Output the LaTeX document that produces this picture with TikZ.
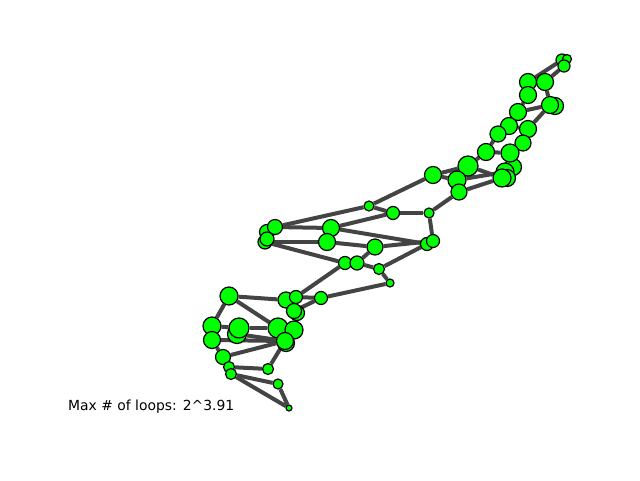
\documentclass[tikz,border=0pt]{standalone}
\usepackage{fontspec}
\setmainfont{DejaVu Sans}
\usetikzlibrary{backgrounds}
\definecolor{nodegreen}{RGB}{0,255,0}
\definecolor{edgegray}{RGB}{68,68,68}
\tikzset{
  nd/.style={circle, draw=black, line width=1.2pt, fill=nodegreen, inner sep=0pt},
  edge/.style={draw=edgegray, line width=4pt},
  lbl/.style={font=\fontsize{13.9}{16}\selectfont, inner sep=0pt, anchor=west}
}
\begin{document}
\begin{tikzpicture}[x=1pt,y=-1pt]
\useasboundingbox (0,0) rectangle (640,480);
\foreach \n/\x/\y/\r in {
  t1/562/60/6, t2/567/59/4.5, t3/564/66/6,
  b1/528/82/8.5, b2/545/82/8.5, b3/528/95/8.5, b4b/555/106/8.5, b4/550/105/8.5,
  b5/518/112/8.5, b6/509/126/8.5, b7/528/129/8.5, b8/498/134/8,
  c1/523/143/8, c2/486/152/8.5, c4b/513/167/8.5, c3/510/153/9,
  d/468/166/10, e/505/172/9, e2b/507/178/8.5, e2/502/178/9,
  f0/433/175/8.5, f/457/180/9, g/459/192/8, h/429/213/5,
  m1/369/206/5, m2/393/213/6.5, m4/267/232/7.5, m3/275/227/7.5,
  m5/331/228/8.5, m6/265/242/7, m6a/267/239/7, m7/327/242/8.5, m8/375/247/8,
  m9/427/244/6.5, m10/433/241/6.5, m11/345/263/6.5, m12/357/263/7,
  m13/379/269/5.5, m14/390/283/4,
  n1/229/296/9, n2/286/300/8, n3/296/297/6.5, n4/321/298/6.5,
  n5b/297/313/7.5, n5/294/311/7.5, n6/212/326/9, n7b/237/334/9.5, n7/239/328/10,
  n8/278/328/10, n9/294/330/9, n10/212/340/8.5, n11b/286/343/8.5, n11/285/341/8.5,
  n12/223/357/7.5, n13/229/367/5.5, n14/231/374/5.5, n15/268/369/5.5,
  n16/278/384/5, n17/289/408/3}
  \node[nd, minimum size=2*\r pt] (\n) at (\x,\y) {};
\begin{pgfonlayer}{background}
\fill[white] (0,0) rectangle (640,480);
\foreach \a/\b in {
  t1/b1, t3/b2, b1/b3, b2/b4, b3/b5, b5/b4, b5/b6, b4/b7, b6/b7, b6/b8,
  b7/c1, b8/c2, c2/c3, c1/c3, c2/d, c3/e, d/e2, f/e, g/e2, f0/d, f0/f, g/f,
  g/h, f0/m1, c3/c4b,
  m1/m3, m1/m2, m2/h, h/m10, m2/m5, m3/m5, m5/m9, m6/m7, m7/m8, m8/m10,
  m6/m11, m12/m8, m12/m13, m13/m9, m13/m14, m14/n4, m11/n3, m3/m4, m4/m6a,
  m11/m12, m5/m7, m9/m10,
  n1/n2, n1/n6, n1/n8, n3/n4, n2/n5, n4/n5, n6/n7, n7/n8, n10/n11, n6/n10,
  n10/n12, n12/n11, n12/n13, n13/n14, n13/n15, n15/n11, n14/n16, n14/n17,
  n16/n17, n9/n5, n7b/n11, n2/n3, n8/n9}
  \draw[edge] (\a) -- (\b);
\end{pgfonlayer}
\node[lbl] (label) at (68,407) {Max \# of loops: 2\textasciicircum 3.91};
\end{tikzpicture}
\end{document}
